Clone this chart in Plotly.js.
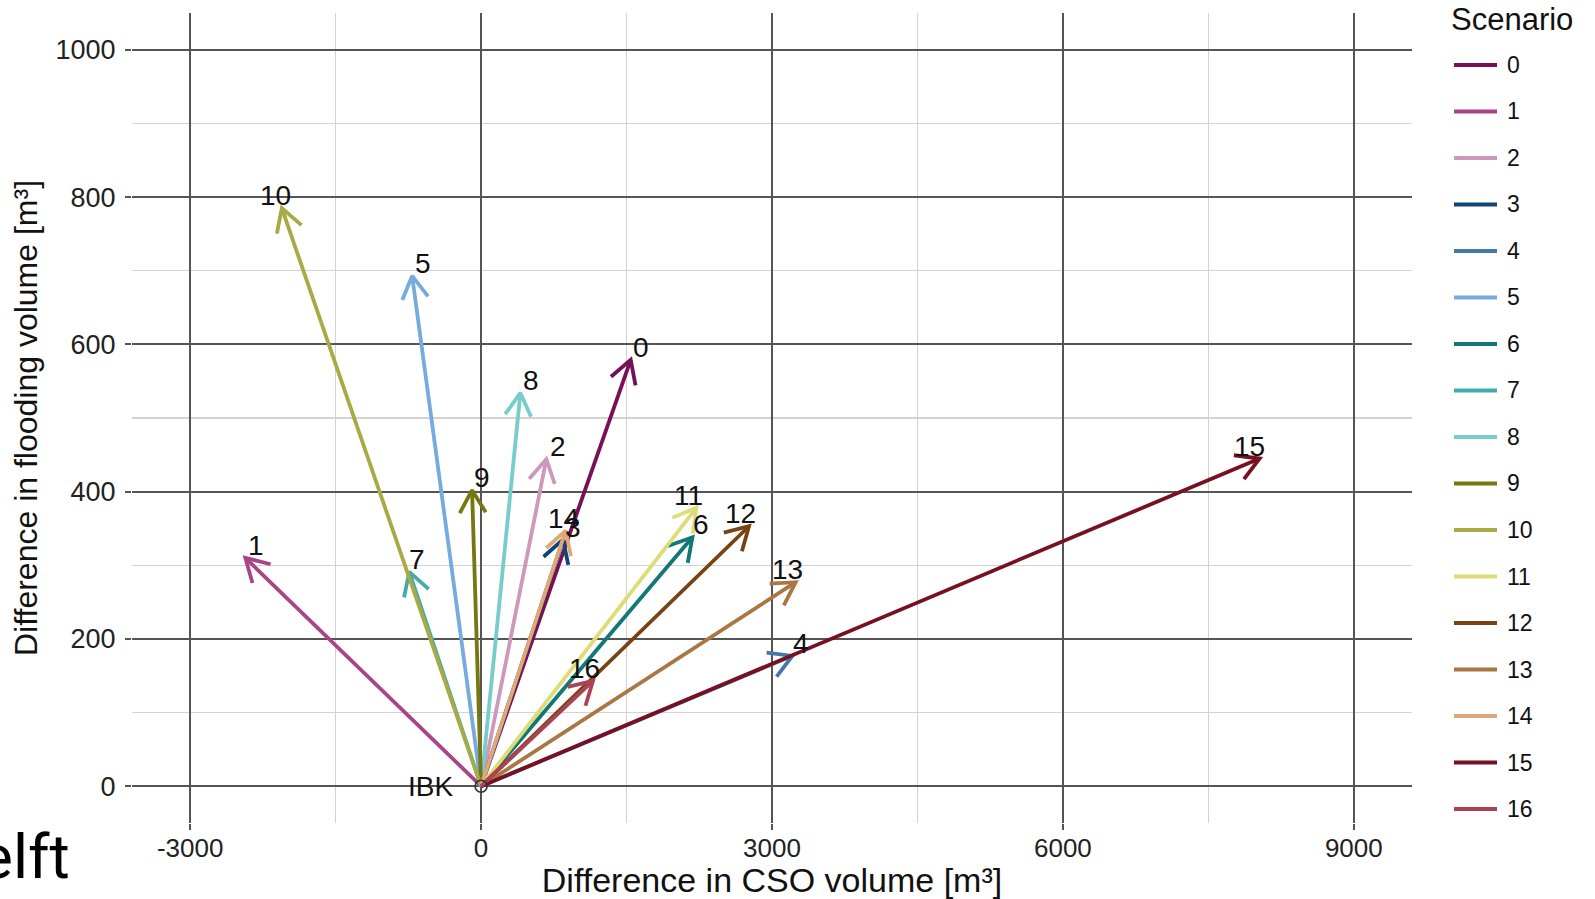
<!DOCTYPE html>
<html>
<head>
<meta charset="utf-8">
<script src="https://cdn.plot.ly/plotly-3.0.1.min.js"></script>
<style>
  html, body { margin: 0; padding: 0; background: #ffffff; }
  #chart { width: 1595px; height: 899px; }
</style>
</head>
<body>
<div id="chart"></div>
<script>
// Scenario vectors: change relative to the IBK reference state
const scenarios = ['0', '1', '2', '3', '4', '5', '6', '7', '8', '9', '10', '11', '12', '13', '14', '15', '16'];
const dCSO   = [1543, -2431, 673, 845, 3210, -711, 2179, -741, 405, -93, -2055, 2220, 2763, 3244, 872, 8029, 1154];
const dFlood = [579, 310, 444, 335, 177, 693, 338, 291, 534, 402, 785, 378, 353, 277, 347, 445, 143];
const scenarioColors = ['#771155', '#AA4488', '#CC99BB', '#114477', '#4477AA', '#77AADD', '#117777', '#44AAAA',
                        '#77CCCC', '#777711', '#AAAA44', '#DDDD77', '#774411', '#AA7744', '#DDAA77', '#771122', '#AA4455'];
const xTicks = [-3000, 0, 3000, 6000, 9000];
const yTicks = [0, 200, 400, 600, 800, 1000];
const baseLabel = 'IBK';

// Horizontal nudge of each scenario label (px)
const labelShift = [10, 11, 12, 10, 9, 11, 9, 8, 11, 10, -6, -8, -9, -8, -2, -10, -8];

const FONT = 'Liberation Sans, Arial, Helvetica, sans-serif';
const W = 1595, H = 899;
const M = { l: 132, r: 183, t: 13, b: 76 };
const plotW = W - M.l - M.r, plotH = H - M.t - M.b;
const xRange = [-3600, 9600], yRange = [-50, 1050];
const sx = plotW / (xRange[1] - xRange[0]);
const sy = plotH / (yRange[1] - yRange[0]);
const headLen = 26, headAng = 30 * Math.PI / 180;

// Each arrow: shaft from the origin plus two open head strokes, built in pixel space
const traces = scenarios.map((s, i) => {
  const X = dCSO[i], Y = dFlood[i];
  const px = X * sx, py = Y * sy;
  const L = Math.hypot(px, py);
  const bx = -px / L, by = -py / L;
  const wing = sgn => {
    const a = sgn * headAng;
    const rx = bx * Math.cos(a) - by * Math.sin(a);
    const ry = bx * Math.sin(a) + by * Math.cos(a);
    return [X + rx * headLen / sx, Y + ry * headLen / sy];
  };
  const w1 = wing(1), w2 = wing(-1);
  return {
    type: 'scatter', mode: 'lines', name: s,
    x: [0, X, null, w1[0], X, w2[0]],
    y: [0, Y, null, w1[1], Y, w2[1]],
    line: { color: scenarioColors[i], width: 3.8 },
    connectgaps: false, showlegend: false, hoverinfo: 'skip'
  };
});

traces.push({
  type: 'scatter', mode: 'markers', x: [0], y: [0],
  marker: { symbol: 'circle-open', size: 12, color: '#333333', line: { width: 1.6 } },
  showlegend: false, hoverinfo: 'skip'
});

const annotations = [];
scenarios.forEach((s, i) => {
  annotations.push({
    x: dCSO[i], y: dFlood[i], xref: 'x', yref: 'y', text: s, showarrow: false,
    xanchor: 'center', yanchor: 'bottom', xshift: labelShift[i], yshift: -5,
    font: { family: FONT, size: 28, color: '#111111' }
  });
});
annotations.push({
  x: 0, y: 0, xref: 'x', yref: 'y', text: baseLabel, showarrow: false,
  xanchor: 'right', yanchor: 'middle', xshift: -26,
  font: { family: FONT, size: 28, color: '#111111' }
});

// Legend drawn by hand so that key length and row spacing can be set freely
const toPX = p => (p - M.l) / plotW;
const toPY = p => (H - M.b - p) / plotH;
const shapes = [];
annotations.push({
  x: toPX(1449), y: toPY(20), xref: 'paper', yref: 'paper', text: 'Scenario', showarrow: false,
  xanchor: 'left', yanchor: 'middle', font: { family: FONT, size: 31, color: '#111111' }
});
scenarios.forEach((s, i) => {
  const yy = 65 + 46.5 * i;
  shapes.push({
    type: 'line', xref: 'paper', yref: 'paper',
    x0: toPX(1454), x1: toPX(1497), y0: toPY(yy), y1: toPY(yy),
    line: { color: scenarioColors[i], width: 4.2 }
  });
  annotations.push({
    x: toPX(1505), y: toPY(yy), xref: 'paper', yref: 'paper', text: s, showarrow: false,
    xanchor: 'left', yanchor: 'middle', font: { family: FONT, size: 23, color: '#111111' }
  });
});

annotations.push({
  x: toPX(72), y: toPY(856), xref: 'paper', yref: 'paper', text: 'elft', showarrow: false,
  xanchor: 'right', yanchor: 'middle', font: { family: 'Roboto, Open Sans, sans-serif', size: 62, color: '#000000' }
});

const axisCommon = {
  showgrid: true, gridcolor: '#555555', gridwidth: 2,
  zeroline: false, showline: false,
  ticks: 'outside', ticklen: 6, tickwidth: 2, tickcolor: '#555555',
  tickmode: 'array',
  fixedrange: true
};

const layout = {
  width: W, height: H,
  margin: M,
  paper_bgcolor: '#ffffff', plot_bgcolor: '#ffffff',
  showlegend: false,
  xaxis: Object.assign({}, axisCommon, {
    range: xRange, tickvals: xTicks, ticktext: xTicks.map(String),
    tickfont: { family: FONT, size: 26, color: '#222222' },
    ticklabelstandoff: -4,
    minor: { dtick: 1500, tick0: 0, showgrid: true, gridcolor: '#d3d3d3', gridwidth: 1.5, ticks: '' },
    title: { text: 'Difference in CSO volume [m³]', font: { family: FONT, size: 34, color: '#111111' }, standoff: 8 }
  }),
  yaxis: Object.assign({}, axisCommon, {
    range: yRange, tickvals: yTicks, ticktext: yTicks.map(String),
    tickfont: { family: FONT, size: 27, color: '#222222' },
    ticklabelstandoff: 4,
    minor: { dtick: 100, tick0: 0, showgrid: true, gridcolor: '#d3d3d3', gridwidth: 1.5, ticks: '' },
    title: { text: 'Difference in flooding volume [m³]', font: { family: FONT, size: 32, color: '#111111' }, standoff: 8 }
  }),
  annotations: annotations,
  shapes: shapes
};

Plotly.newPlot('chart', traces, layout, { displayModeBar: false, staticPlot: true });
</script>
</body>
</html>
